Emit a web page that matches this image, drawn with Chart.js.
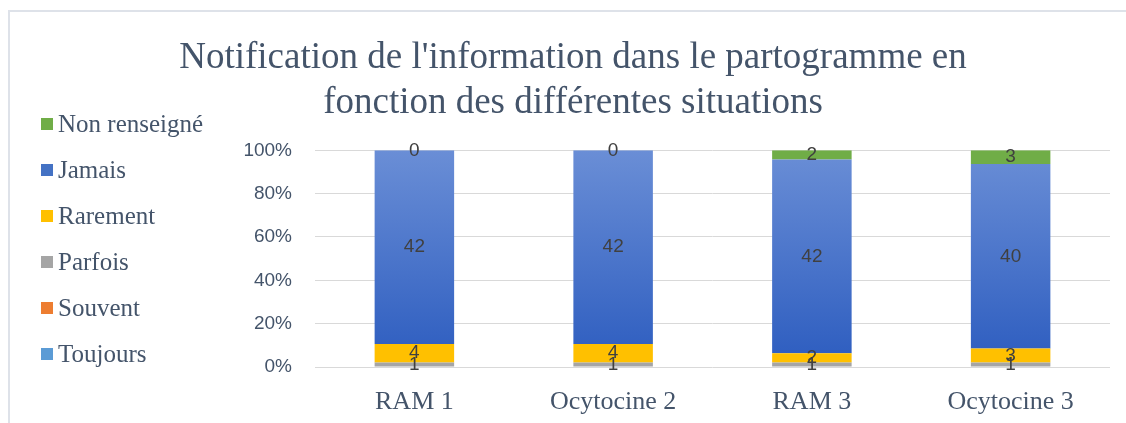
<!DOCTYPE html>
<html>
<head>
<meta charset="utf-8">
<script src="https://cdn.jsdelivr.net/npm/chart.js@4"></script>
<style>
    body { margin: 0; background: #ffffff; }
    #wrap { position: relative; width: 1126px; height: 423px; }
    #frame {
        position: absolute; left: 8px; top: 10px; width: 1130px; height: 430px;
        border-top: 2px solid #dee2e9; border-left: 2px solid #dee2e9;
    }
    canvas { position: absolute; left: 0; top: 0; }
</style>
</head>
<body>
<div id="wrap">
    <div id="frame"></div>
    <canvas id="chart" width="1126" height="423"></canvas>
</div>
<script>
const categories = ['RAM 1', 'Ocytocine 2', 'RAM 3', 'Ocytocine 3'];
const seriesNames = ['Toujours', 'Souvent', 'Parfois', 'Rarement', 'Jamais', 'Non renseigné'];
const toujours = [0, 0, 0, 0];
const souvent = [0, 0, 0, 0];
const parfois = [1, 1, 1, 1];
const rarement = [4, 4, 2, 3];
const jamais = [42, 42, 42, 40];
const nonRenseigne = [0, 0, 2, 3];
const yTicks = ['0%', '20%', '40%', '60%', '80%', '100%'];
const labelledSeries = ['Parfois', 'Rarement', 'Jamais', 'Non renseigné'];

const counts = [toujours, souvent, parfois, rarement, jamais, nonRenseigne];
const totals = categories.map((c, i) => counts.reduce((s, arr) => s + arr[i], 0));
const colors = ['#5b9bd5', '#ed7d31', '#a5a5a5', '#ffc000', '#4472c4', '#70ad47'];

const textColor = '#44546a';
const serif = '"Liberation Serif", "Times New Roman", serif';
const sans = '"Liberation Sans", Arial, sans-serif';

function jamaisGradient(context) {
    const area = context.chart.chartArea;
    if (!area) return '#4472c4';
    const g = context.chart.ctx.createLinearGradient(0, area.top, 0, area.bottom);
    g.addColorStop(0, '#6a8ed6');
    g.addColorStop(1, '#2c5cbf');
    return g;
}

const datasets = seriesNames.map((name, k) => ({
    label: name,
    counts: counts[k],
    data: counts[k].map((v, i) => v / totals[i] * 100),
    backgroundColor: name === 'Jamais' ? jamaisGradient : colors[k],
    borderWidth: 0,
    barPercentage: 0.8,
    categoryPercentage: 0.5
}));

// valeurs au centre de chaque segment
const valueLabels = {
    id: 'valueLabels',
    afterDatasetsDraw(chart) {
        const ctx = chart.ctx;
        ctx.save();
        ctx.font = '19px ' + sans;
        ctx.fillStyle = '#404040';
        ctx.textAlign = 'center';
        ctx.textBaseline = 'middle';
        chart.data.datasets.forEach((ds, k) => {
            if (!labelledSeries.includes(ds.label)) return;
            chart.getDatasetMeta(k).data.forEach((bar, i) => {
                ctx.fillText(String(ds.counts[i]), bar.x, (bar.y + bar.base) / 2);
            });
        });
        ctx.restore();
    }
};

// légende à gauche, ordre inversé
const sideLegend = {
    id: 'sideLegend',
    afterDraw(chart) {
        const ctx = chart.ctx;
        ctx.save();
        ctx.font = '25px ' + serif;
        ctx.textBaseline = 'middle';
        const items = chart.data.datasets.slice().reverse();
        items.forEach((ds, j) => {
            const y = 124 + j * 46;
            const k = chart.data.datasets.length - 1 - j;
            ctx.fillStyle = colors[k];
            ctx.fillRect(41, y - 6, 12, 12);
            ctx.fillStyle = textColor;
            ctx.fillText(ds.label, 58, y + 1);
        });
        ctx.restore();
    }
};

new Chart(document.getElementById('chart').getContext('2d'), {
    type: 'bar',
    data: { labels: categories, datasets: datasets },
    options: {
        responsive: false,
        animation: false,
        layout: { padding: { left: 36, right: 16, top: 0, bottom: 0 } },
        plugins: {
            legend: { display: false },
            tooltip: { enabled: false },
            title: {
                display: true,
                text: ["Notification de l'information dans le partogramme en", 'fonction des différentes situations'],
                color: textColor,
                font: { family: serif, size: 37, weight: 'normal', lineHeight: 1.22 },
                padding: { top: 36, bottom: 24 }
            }
        },
        scales: {
            x: {
                stacked: true,
                grid: { display: false },
                border: { display: false },
                ticks: { color: textColor, font: { family: serif, size: 26 }, padding: 12 },
                afterFit: (scale) => { scale.height = 56; }
            },
            y: {
                stacked: true,
                min: 0,
                max: 100,
                grid: { color: '#d9d9d9', drawTicks: false },
                border: { display: false },
                ticks: {
                    stepSize: 20,
                    padding: 23,
                    color: textColor,
                    font: { family: sans, size: 19 },
                    callback: (v) => yTicks[v / 20]
                },
                afterFit: (scale) => { scale.width = 279; }
            }
        }
    },
    plugins: [valueLabels, sideLegend]
});
</script>
</body>
</html>
